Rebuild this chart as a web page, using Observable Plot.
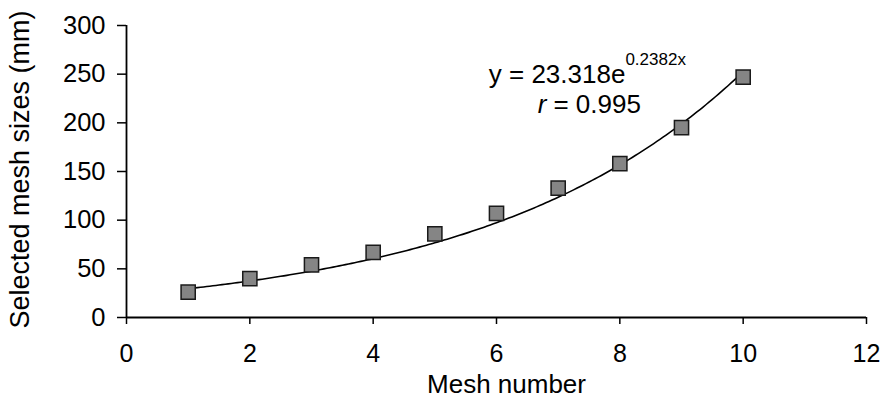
<!DOCTYPE html>
<html>
<head>
<meta charset="utf-8">
<script src="https://cdn.jsdelivr.net/npm/d3@7"></script>
<script src="https://cdn.jsdelivr.net/npm/@observablehq/plot@0.6"></script>
<style>
  html, body { margin: 0; padding: 0; background: #fff; }
  #chart svg { display: block; }
</style>
</head>
<body>
<div id="chart"></div>
<script>
// Data
const meshNumber = [1, 2, 3, 4, 5, 6, 7, 8, 9, 10];
const meshSize   = [26, 40, 54, 67, 86, 107, 133, 158, 195, 247];
const xTicks = [0, 2, 4, 6, 8, 10, 12];
const yTicks = [0, 50, 100, 150, 200, 250, 300];
// Fitted exponential trendline shown in the chart: y = 23.318 e^(0.2382x), r = 0.995
const fitA = 23.318;
const fitB = 0.2382;
const fitEq = "y = 23.318e";
const fitExp = "0.2382x";
const fitR = "= 0.995";

const points = meshNumber.map((x, i) => ({x, y: meshSize[i]}));
const fitX = d3.range(1, 10.001, 0.05);
const fitLine = fitX.map(x => ({x, y: fitA * Math.exp(fitB * x)}));

const font = "'Liberation Sans', Arial, sans-serif";

const plot = Plot.plot({
  width: 884,
  height: 414,
  marginLeft: 126,
  marginRight: 18,
  marginTop: 25,
  marginBottom: 97,
  style: {fontFamily: font, fontSize: "25px", color: "#000", background: "#fff"},
  x: {domain: [0, 12]},
  y: {domain: [0, 300]},
  marks: [
    Plot.axisY({ticks: yTicks, tickSize: 9, tickPadding: 12, label: null, fontSize: 25.5, strokeWidth: 1.5}),
    Plot.axisX({ticks: xTicks, tickSize: 7, tickPadding: 20, label: null, fontSize: 25, strokeWidth: 1.5}),
    Plot.ruleY([0], {x1: 0, x2: 12, stroke: "#000", strokeWidth: 1.8}),
    Plot.ruleX([0], {y1: 0, y2: 300, stroke: "#000", strokeWidth: 1.8}),
    Plot.text(["Selected mesh sizes (mm)"], {frameAnchor: "left", textAnchor: "middle", lineAnchor: "middle", rotate: -90, dx: -106, dy: -2, fontSize: 27, fill: "#000"}),
    Plot.text(["Mesh number"], {frameAnchor: "bottom", textAnchor: "middle", dx: 10, dy: 75, fontSize: 26, fill: "#000"}),
    Plot.line(fitLine, {x: "x", y: "y", stroke: "#000", strokeWidth: 1.6}),
    Plot.dot(points, {x: "x", y: "y", symbol: "square", r: 8, fill: "#858585", stroke: "#1a1a1a", strokeWidth: 1.5}),
    Plot.text([fitEq], {x: 8.09, y: 241.4, textAnchor: "end", lineAnchor: "bottom", fontSize: 26, fill: "#000"}),
    Plot.text([fitExp], {x: 8.09, y: 241.4, dx: 0, dy: -18, textAnchor: "start", lineAnchor: "bottom", fontSize: 17, fill: "#000"}),
    Plot.text(["r"], {x: 6.81, y: 209.6, textAnchor: "end", lineAnchor: "bottom", fontSize: 26, fontStyle: "italic", fill: "#000"}),
    Plot.text([fitR], {x: 6.81, y: 209.6, dx: 7, textAnchor: "start", lineAnchor: "bottom", fontSize: 26, fill: "#000"})
  ]
});
document.getElementById("chart").appendChild(plot);
</script>
</body>
</html>
